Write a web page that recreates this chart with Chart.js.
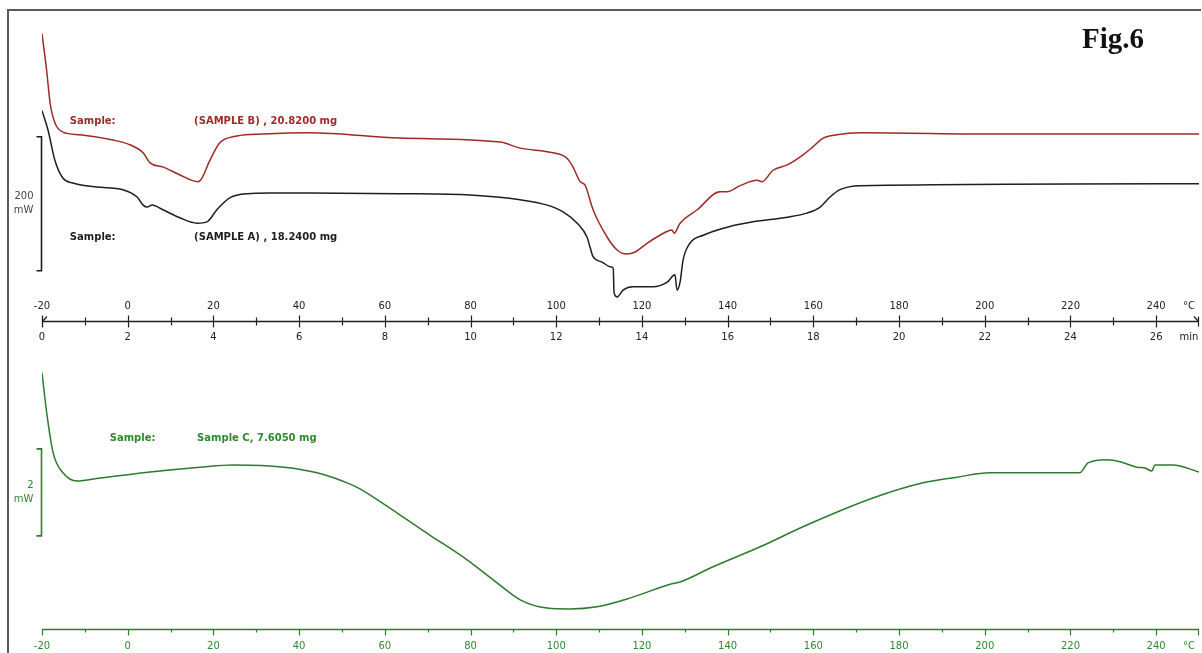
<!DOCTYPE html>
<html>
<head>
<meta charset="utf-8">
<script src="https://cdn.jsdelivr.net/npm/chart.js@4/dist/chart.umd.min.js"></script>
<style>
  html, body { margin: 0; padding: 0; background: #fff; }
  #wrap { position: relative; width: 1202px; height: 653px; }
  canvas { display: block; }
</style>
</head>
<body>
<div id="wrap"><canvas id="c" width="1202" height="653"></canvas></div>
<script>
// ---------------- DATA ----------------
// Temperature axis (°C) and time axis (min)
const tempTicks = [-20, 0, 20, 40, 60, 80, 100, 120, 140, 160, 180, 200, 220, 240];
const tempMinorTicks = [-10, 10, 30, 50, 70, 90, 110, 130, 150, 170, 190, 210, 230];
const minuteTicks = [0, 2, 4, 6, 8, 10, 12, 14, 16, 18, 20, 22, 24, 26];
const startTemp = -20;      // °C at t = 0 min
const heatingRate = 10;     // °C / min

// Sample B (red), heat flow in mW (arbitrary offset)
const tempB = [-20, -18.9, -18.1, -17.0, -15.1, -11.1, -3.4, 0.5, 3.6, 5.2, 8.2, 12.2, 16.4, 17.3, 19.2, 21.5, 25.5, 31.6, 42.5, 63.5, 86.9, 91.6, 99.3, 102.5, 103.9, 105.6, 106.7, 108.6, 111.9, 114.2, 116.5, 118.4, 121.2, 124.2, 127.0, 127.5, 128.9, 132.9, 138.2, 139.9, 142.9, 146.9, 148.0, 150.6, 153.9, 157.6, 159.9, 162.3, 165.5, 170.9, 203.6, 250];
const heatB = [429, 373, 325, 296, 282, 278, 270, 263, 251, 236, 230, 218, 208, 213, 240, 266, 276, 279, 281, 273, 267, 258, 251, 243, 230, 208, 203, 166, 125, 106, 100, 103, 116, 128, 136, 131, 146, 166, 193, 193, 202, 210, 208, 225, 233, 248, 260, 273, 278, 281, 279, 279];

// Sample A (black)
const tempA = [-20, -18.6, -17.0, -15.1, -12.8, -7.2, -1.1, 2.2, 3.6, 4.5, 5.7, 8.2, 12.2, 16.2, 18.5, 20.8, 23.9, 27.8, 33.2, 42.5, 63.5, 79.9, 91.6, 97.9, 101.6, 104.9, 107.2, 107.9, 108.6, 110.7, 112.6, 113.3, 113.5, 114.2, 115.6, 117.9, 122.6, 125.9, 127.7, 128.2, 128.9, 129.6, 131.2, 134.3, 139.9, 145.9, 153.9, 158.5, 161.6, 163.9, 166.2, 170.9, 250];
const heatA = [314, 285, 240, 213, 206, 200, 196, 185, 173, 170, 173, 166, 154, 146, 148, 166, 184, 190, 191, 191, 190, 188, 181, 173, 163, 146, 125, 110, 96, 88, 81, 79, 42, 36, 46, 51, 51, 58, 69, 46, 58, 91, 116, 128, 140, 148, 155, 161, 170, 185, 196, 202, 205];

// Sample C (green)
const tempC = [-20, -18.9, -17.4, -15.1, -11.8, -6.5, 5.2, 16.9, 24.6, 36.5, 44.2, 51.9, 54.2, 62.8, 70.5, 79.2, 86.2, 91.6, 97.9, 103.2, 109.5, 117.2, 127.0, 128.9, 136.6, 147.6, 158.5, 173.9, 185.6, 193.5, 201.2, 222.2, 222.9, 224.1, 228.5, 231.8, 235.5, 237.4, 239.0, 239.7, 243.9, 250];
const heatC = [5.89, 4.97, 4.05, 3.59, 3.40, 3.47, 3.61, 3.72, 3.77, 3.72, 3.59, 3.33, 3.22, 2.67, 2.16, 1.59, 1.06, 0.67, 0.48, 0.46, 0.51, 0.71, 1.04, 1.08, 1.43, 1.89, 2.39, 3.01, 3.36, 3.49, 3.59, 3.59, 3.66, 3.82, 3.89, 3.84, 3.72, 3.70, 3.63, 3.77, 3.77, 3.61];

// Scale bars (mW)
const barTopStart = 75, barTopSpan = 200;
const barCStart = 2.14, barCSpan = 2;

// Labels
const labelB = ['Sample:', '(SAMPLE B) , 20.8200 mg'];
const labelA = ['Sample:', '(SAMPLE A) , 18.2400 mg'];
const labelC = ['Sample:', 'Sample C, 7.6050 mg'];
const figTitle = 'Fig.6';

// ---------------- STYLE ----------------
const RED = '#9e2a26', BLACK = '#1e1e1e', GREEN = '#2e7a2e';
const GREEN_TXT = '#2f8a2f';

function pts(xs, ys) { return xs.map((x, i) => ({ x: x, y: ys[i] })); }

const decor = {
  id: 'decor',
  afterDatasetsDraw(chart) {
    const ctx = chart.ctx;
    const X = chart.scales.x, YT = chart.scales.yTop, YC = chart.scales.yC;
    const px = v => X.getPixelForValue(v);
    const tMin = m => startTemp + heatingRate * m;
    ctx.save();

    // frame
    ctx.strokeStyle = '#5a5a5a'; ctx.lineWidth = 2;
    ctx.beginPath(); ctx.moveTo(8, 653); ctx.lineTo(8, 10); ctx.lineTo(1201, 10); ctx.stroke();

    // ---- top axis ----
    const ay = Math.round(YT.getPixelForValue(0)) + 0.5;
    const x0 = px(-20), x1 = px(250);
    ctx.strokeStyle = BLACK; ctx.lineWidth = 1.3;
    ctx.beginPath(); ctx.moveTo(x0, ay); ctx.lineTo(x1, ay); ctx.stroke();
    ctx.lineWidth = 1.2;
    tempTicks.forEach(t => { const x = Math.round(px(t)) + 0.5; ctx.beginPath(); ctx.moveTo(x, ay - 6); ctx.lineTo(x, ay + 6); ctx.stroke(); });
    tempMinorTicks.forEach(t => { const x = Math.round(px(t)) + 0.5; ctx.beginPath(); ctx.moveTo(x, ay - 4); ctx.lineTo(x, ay + 4); ctx.stroke(); });
    // end marks
    ctx.beginPath(); ctx.moveTo(x0 + 0.5, ay + 5); ctx.lineTo(x0 + 0.5, ay - 5); ctx.moveTo(x0 + 0.5, ay); ctx.lineTo(x0 + 5, ay - 5); ctx.stroke();
    ctx.beginPath(); ctx.moveTo(x1 - 0.5, ay + 5); ctx.lineTo(x1 - 0.5, ay - 5); ctx.moveTo(x1 - 0.5, ay); ctx.lineTo(x1 - 5, ay - 5); ctx.stroke();

    ctx.fillStyle = '#222'; ctx.font = '10px "DejaVu Sans"'; ctx.textAlign = 'center'; ctx.textBaseline = 'middle';
    tempTicks.forEach(t => ctx.fillText(String(t), px(t), ay - 15));
    minuteTicks.forEach(m => ctx.fillText(String(m), px(tMin(m)), ay + 16));
    ctx.fillText('°C', px(250) - 10, ay - 15);
    ctx.fillText('min', px(250) - 10, ay + 16);

    // ---- bottom axis (green) ----
    const by = Math.round(YC.getPixelForValue(0)) + 0.5;
    ctx.strokeStyle = GREEN; ctx.lineWidth = 1.4;
    ctx.beginPath(); ctx.moveTo(x0, by); ctx.lineTo(x1, by); ctx.stroke();
    ctx.lineWidth = 1.2;
    tempTicks.forEach(t => { const x = Math.round(px(t)) + 0.5; ctx.beginPath(); ctx.moveTo(x, by); ctx.lineTo(x, by + 6); ctx.stroke(); });
    tempMinorTicks.forEach(t => { const x = Math.round(px(t)) + 0.5; ctx.beginPath(); ctx.moveTo(x, by); ctx.lineTo(x, by + 3); ctx.stroke(); });
    ctx.beginPath(); ctx.moveTo(x1 - 0.5, by); ctx.lineTo(x1 - 0.5, by + 6); ctx.stroke();
    ctx.fillStyle = GREEN_TXT;
    tempTicks.forEach(t => ctx.fillText(String(t), px(t), by + 17));
    ctx.fillText('°C', px(250) - 10, by + 17);

    // ---- scale bars ----
    const sx = Math.round(px(-20)) - 0.5;
    const drawBar = (y1, y2, col) => {
      ctx.strokeStyle = col; ctx.lineWidth = 1.6;
      ctx.beginPath(); ctx.moveTo(sx - 5, y1); ctx.lineTo(sx, y1); ctx.lineTo(sx, y2); ctx.lineTo(sx - 5, y2); ctx.stroke();
    };
    const tb1 = YT.getPixelForValue(barTopStart + barTopSpan), tb2 = YT.getPixelForValue(barTopStart);
    drawBar(tb1, tb2, BLACK);
    ctx.fillStyle = '#444'; ctx.textAlign = 'right'; ctx.font = '10px "DejaVu Sans"';
    ctx.fillText(String(barTopSpan), sx - 8, (tb1 + tb2) / 2 - 7);
    ctx.fillText('mW', sx - 8, (tb1 + tb2) / 2 + 7);
    const cb1 = YC.getPixelForValue(barCStart + barCSpan), cb2 = YC.getPixelForValue(barCStart);
    drawBar(cb1, cb2, GREEN);
    ctx.fillStyle = GREEN_TXT;
    ctx.fillText(String(barCSpan), sx - 8, (cb1 + cb2) / 2 - 7);
    ctx.fillText('mW', sx - 8, (cb1 + cb2) / 2 + 7);

    // ---- sample labels ----
    ctx.font = 'bold 10px "DejaVu Sans"'; ctx.textAlign = 'left';
    const lab = (arr, col, xa, xb, yv, scale) => {
      ctx.fillStyle = col;
      const y = scale.getPixelForValue(yv);
      ctx.fillText(arr[0], px(xa), y);
      ctx.fillText(arr[1], px(xb), y);
    };
    lab(labelB, RED, -13.5, 15.5, 298.5, YT);
    lab(labelA, BLACK, -13.5, 15.5, 125.4, YT);
    lab(labelC, GREEN_TXT, -4.2, 16.2, 4.39, YC);

    // ---- figure title ----
    ctx.fillStyle = '#111'; ctx.font = 'bold 29px "Liberation Serif"'; ctx.textAlign = 'center';
    ctx.fillText(figTitle, 1113, 41);
    ctx.restore();
  }
};

new Chart(document.getElementById('c'), {
  type: 'line',
  data: {
    datasets: [
      { label: 'Sample B', data: pts(tempB, heatB), yAxisID: 'yTop', borderColor: RED, borderWidth: 1.5 },
      { label: 'Sample A', data: pts(tempA, heatA), yAxisID: 'yTop', borderColor: BLACK, borderWidth: 1.5 },
      { label: 'Sample C', data: pts(tempC, heatC), yAxisID: 'yC', borderColor: GREEN, borderWidth: 1.5 }
    ]
  },
  options: {
    responsive: false,
    animation: false,
    layout: { padding: { left: 42, right: 3, top: 0, bottom: 0 } },
    elements: { point: { radius: 0 }, line: { cubicInterpolationMode: 'monotone', fill: false } },
    plugins: { legend: { display: false }, tooltip: { enabled: false }, title: { display: false } },
    scales: {
      x: { type: 'linear', min: -20, max: 250, display: false },
      yTop: { type: 'linear', min: -495.5, max: 479.1, display: false },
      yC: { type: 'linear', min: -0.552, max: 14.46, display: false }
    }
  },
  plugins: [decor]
});
</script>
</body>
</html>
